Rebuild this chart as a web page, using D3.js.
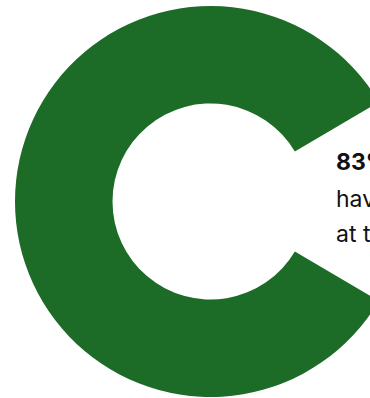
<!DOCTYPE html>
<html>
<head>
<meta charset="utf-8">
<script src="https://cdn.jsdelivr.net/npm/d3@7"></script>
<style>
  html, body { margin: 0; padding: 0; background: #fff; overflow: hidden; }
  svg { display: block; }
</style>
</head>
<body>
<script>
// share of respondents, and the rest
var categories = ["yes", "rest"];
var shares = [83, 17];
var headline = "83% of respondents";
var lines = ["have taken part in a survey", "at the start of this year"];

var width = 370, height = 398;
var cx = 210.5, cy = 201.5;
var outerR = 195.5, innerR = 98;

var svg = d3.select("body").append("svg")
  .attr("width", width)
  .attr("height", height);

var g = svg.append("g").attr("transform", `translate(${cx},${cy})`);

// gap centred on 3 o'clock
var gap = shares[1] / d3.sum(shares) * 2 * Math.PI;
var start = Math.PI / 2 + gap / 2;

var pie = d3.pie().sort(null)
  .startAngle(start)
  .endAngle(start + 2 * Math.PI)
  .value(d => d);

var arc = d3.arc().innerRadius(innerR).outerRadius(outerR);

g.selectAll("path")
  .data(pie(shares))
  .enter()
  .append("path")
    .attr("d", arc)
    .attr("fill", (d, i) => i == 0 ? "#1c6b27" : "none");

// label to the right of the ring
var label = svg.append("text")
  .attr("x", 336)
  .attr("y", 170)
  .style("font-family", "Inter, 'Open Sans', sans-serif")
  .style("font-size", "23px")
  .attr("fill", "#111");

label.append("tspan")
  .attr("font-weight", 700)
  .text(headline);

lines.forEach(function(t, i) {
  label.append("tspan")
    .attr("x", 336)
    .attr("dy", i == 0 ? 37 : 35)
    .attr("font-weight", 400)
    .text(t);
});
</script>
</body>
</html>
